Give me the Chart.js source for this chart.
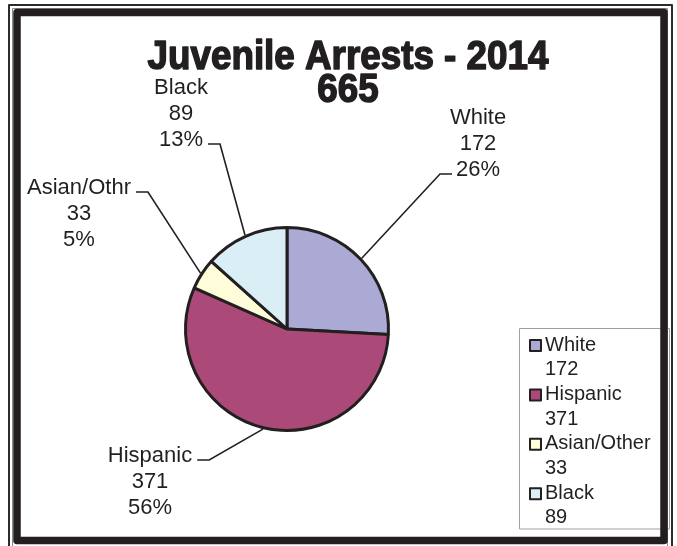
<!DOCTYPE html>
<html>
<head>
<meta charset="utf-8">
<title>Juvenile Arrests - 2014</title>
<script src="https://cdn.jsdelivr.net/npm/chart.js@4"></script>
<style>
  html, body { margin: 0; padding: 0; background: #fff; }
  #wrap { width: 677px; height: 546px; position: relative; }
</style>
</head>
<body>
<div id="wrap"><canvas id="chart" width="677" height="546"></canvas></div>
<script>
// data
const chartTitle = 'Juvenile Arrests - 2014';
const categories = ['White', 'Hispanic', 'Asian/Other', 'Black'];
const sliceLabels = ['White', 'Hispanic', 'Asian/Othr', 'Black'];
const arrests = [172, 371, 33, 89];
const sliceColors = ['#aaaad4', '#ab4a79', '#fefcd9', '#d9eff5'];

const ink = '#231f20';

// where each outside label sits, and which of its lines the leader hooks onto
const labelSpots = [
    { x: 478, y: 118, side: 'left', hook: 2 },
    { x: 150, y: 456, side: 'right', hook: 0 },
    { x: 79, y: 188, side: 'right', hook: 0 },
    { x: 181, y: 88, side: 'right', hook: 2 }
];

const total = arrests.reduce((a, b) => a + b, 0);

const decorPlugin = {
    id: 'decor',
    afterDatasetsDraw(chart) {
        const ctx = chart.ctx;
        const meta = chart.getDatasetMeta(0);
        ctx.save();
        ctx.font = '22px "Liberation Sans", Arial, sans-serif';
        ctx.fillStyle = ink;
        ctx.strokeStyle = ink;
        ctx.lineWidth = 1.6;
        ctx.textAlign = 'center';
        ctx.textBaseline = 'middle';

        meta.data.forEach((arc, i) => {
            const p = arc.getProps(['x', 'y', 'startAngle', 'endAngle', 'outerRadius'], true);
            const mid = (p.startAngle + p.endAngle) / 2;
            const r = p.outerRadius + 1.5;
            const ax = p.x + Math.cos(mid) * r;
            const ay = p.y + Math.sin(mid) * r;

            const spot = labelSpots[i];
            const pct = Math.round(arrests[i] / total * 100) + '%';
            const lines = [sliceLabels[i], String(arrests[i]), pct];
            lines.forEach((t, k) => ctx.fillText(t, spot.x, spot.y + k * 26));

            const w = ctx.measureText(lines[spot.hook]).width;
            const hy = spot.y + spot.hook * 26 + 4;
            let x1, x2;
            if (spot.side === 'left') {
                x1 = spot.x - w / 2 - 4;
                x2 = x1 - 12;
            } else {
                x1 = spot.x + w / 2 + 5;
                x2 = x1 + 12;
            }
            ctx.beginPath();
            ctx.moveTo(x1, hy);
            ctx.lineTo(x2, hy);
            ctx.lineTo(ax, ay);
            ctx.stroke();
        });
        ctx.restore();
    },
    afterDraw(chart) {
        const ctx = chart.ctx;
        ctx.save();

        // title, heavy and condensed
        ctx.fillStyle = ink;
        ctx.strokeStyle = ink;
        ctx.lineWidth = 1.5;
        ctx.lineJoin = 'round';
        ctx.textAlign = 'center';
        ctx.textBaseline = 'alphabetic';
        ctx.font = 'bold 40px "Liberation Sans", Arial, sans-serif';
        [chartTitle, String(total)].forEach((t, k) => {
            ctx.save();
            ctx.translate(348, 69 + k * 33);
            ctx.scale(0.92, 1);
            ctx.fillText(t, 0, 0);
            ctx.strokeText(t, 0, 0);
            ctx.restore();
        });

        // legend box
        ctx.strokeStyle = '#a0a0a0';
        ctx.lineWidth = 1;
        ctx.strokeRect(519.5, 328.5, 150, 200.5);
        ctx.font = '20px "Liberation Sans", Arial, sans-serif';
        ctx.textAlign = 'left';
        ctx.textBaseline = 'middle';
        categories.forEach((c, i) => {
            const y = 345 + i * 49.4;
            ctx.fillStyle = sliceColors[i];
            ctx.fillRect(530, y - 5, 11, 11);
            ctx.strokeStyle = ink;
            ctx.lineWidth = 2;
            ctx.strokeRect(530, y - 5, 11, 11);
            ctx.fillStyle = ink;
            ctx.fillText(c, 545, y);
            ctx.fillText(String(arrests[i]), 545, y + 24.7);
        });

        // frame
        ctx.strokeStyle = '#2b2b2b';
        ctx.lineWidth = 2;
        ctx.strokeRect(9, 5, 663, 560);
        ctx.strokeStyle = '#8a8a8a';
        ctx.lineWidth = 1;
        ctx.strokeRect(12.5, 8.5, 655, 560);
        ctx.strokeStyle = ink;
        ctx.lineWidth = 7.5;
        ctx.strokeRect(17, 12.5, 647, 528);
        ctx.restore();
    }
};

new Chart(document.getElementById('chart'), {
    type: 'pie',
    data: {
        labels: categories,
        datasets: [{
            data: arrests,
            backgroundColor: sliceColors,
            borderColor: ink,
            borderWidth: 3
        }]
    },
    options: {
        responsive: false,
        animation: false,
        layout: { padding: { left: 184, right: 287, top: 226, bottom: 114 } },
        plugins: {
            legend: { display: false },
            title: { display: false },
            tooltip: { enabled: false }
        }
    },
    plugins: [decorPlugin]
});
</script>
</body>
</html>
